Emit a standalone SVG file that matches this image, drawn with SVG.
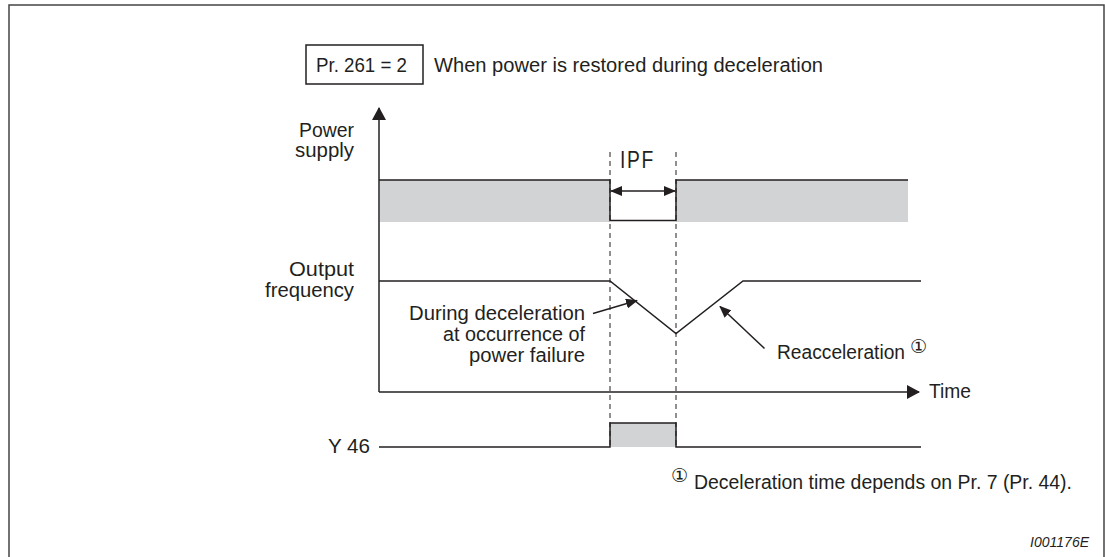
<svg xmlns="http://www.w3.org/2000/svg" width="1105" height="557" viewBox="0 0 1105 557">
<style>
.t{font-family:"Liberation Sans",Arial,sans-serif;font-size:20px;fill:#231f20}
.c{font-family:"DejaVu Sans",sans-serif;font-size:19px;fill:#231f20}
.ln{fill:none;stroke:#231f20;stroke-width:1.5}
.dash{fill:none;stroke:#231f20;stroke-width:1;stroke-dasharray:5 4}
.gray{fill:#d1d3d4;stroke:none}
</style>
<defs>
<marker id="big" markerWidth="13" markerHeight="14" refX="12" refY="7" orient="auto" markerUnits="userSpaceOnUse">
<path d="M0,0 L13,7 L0,14 Z" fill="#231f20"/>
</marker>
<marker id="small" markerWidth="12" markerHeight="10" refX="11" refY="5" orient="auto-start-reverse" markerUnits="userSpaceOnUse">
<path d="M0,0 L12,5 L0,10 Z" fill="#231f20"/>
</marker>
</defs>
<rect width="1105" height="557" fill="#fff"/>
<path d="M9,557 V5 H1104 V557" fill="none" stroke="#444" stroke-width="1.5"/>

<g id="header">
<rect x="306" y="45" width="117" height="39" fill="none" stroke="#231f20" stroke-width="1.5"/>
<text class="t" x="316" y="72" textLength="91" lengthAdjust="spacingAndGlyphs">Pr. 261 = 2</text>
<text class="t" x="434" y="72" textLength="389" lengthAdjust="spacingAndGlyphs">When power is restored during deceleration</text>
</g>

<g id="axes">
<line class="ln" x1="379" y1="392" x2="379" y2="108" marker-end="url(#big)"/>
<line class="ln" x1="379" y1="392" x2="919" y2="392" marker-end="url(#big)"/>
<text class="t" x="929" y="398" textLength="42" lengthAdjust="spacingAndGlyphs">Time</text>
</g>

<g id="power-supply">
<text class="t" x="354" y="137" text-anchor="end" textLength="55" lengthAdjust="spacingAndGlyphs">Power</text>
<text class="t" x="354" y="157" text-anchor="end" textLength="59" lengthAdjust="spacingAndGlyphs">supply</text>
<rect class="gray" x="380" y="180" width="230" height="42"/>
<rect class="gray" x="676" y="180" width="232" height="42"/>
<path class="ln" d="M379,180 H610 V220.5 H676 V180 H908"/>
</g>

<g id="ipf">
<text class="t" x="620" y="168" style="font-size:23px;letter-spacing:2px" textLength="35" lengthAdjust="spacingAndGlyphs">IPF</text>
</g>

<g id="output-frequency">
<text class="t" x="354" y="276" text-anchor="end" textLength="65" lengthAdjust="spacingAndGlyphs">Output</text>
<text class="t" x="354" y="297" text-anchor="end" textLength="89" lengthAdjust="spacingAndGlyphs">frequency</text>
<path class="ln" d="M379,281 H610 L676,333.5 L743,281 H921"/>
</g>

<g id="decel-label">
<text class="t" x="585" y="320" text-anchor="end" textLength="176" lengthAdjust="spacingAndGlyphs">During deceleration</text>
<text class="t" x="585" y="341" text-anchor="end" textLength="142" lengthAdjust="spacingAndGlyphs">at occurrence of</text>
<text class="t" x="585" y="362" text-anchor="end" textLength="116" lengthAdjust="spacingAndGlyphs">power failure</text>
</g>

<g id="reaccel-label">
<text class="t" x="777" y="359" textLength="128" lengthAdjust="spacingAndGlyphs">Reacceleration</text>
<text class="c" x="910" y="353">①</text>
</g>

<g id="y46">
<text class="t" x="370" y="453" text-anchor="end" textLength="42" lengthAdjust="spacingAndGlyphs">Y 46</text>
<rect class="gray" x="610" y="423" width="66" height="24"/>
<path class="ln" d="M379,447 H610 V423 H676 V447 H921"/>
</g>

<g id="footnote">
<text class="c" x="671" y="482">①</text>
<text class="t" x="694" y="489" textLength="378" lengthAdjust="spacingAndGlyphs">Deceleration time depends on Pr. 7 (Pr. 44).</text>
<text class="t" x="1089" y="547" text-anchor="end" style="font-size:14px;font-style:italic">I001176E</text>
</g>

<g id="connectors">
<line class="dash" x1="610" y1="152" x2="610" y2="447"/>
<line class="dash" x1="676" y1="152" x2="676" y2="447"/>
<line class="ln" x1="611" y1="191" x2="675" y2="191" marker-start="url(#small)" marker-end="url(#small)"/>
<line class="ln" x1="593" y1="313.5" x2="637" y2="300.5" marker-end="url(#small)"/>
<line class="ln" x1="764.5" y1="348.5" x2="720" y2="306.5" marker-end="url(#small)"/>
</g>
</svg>
